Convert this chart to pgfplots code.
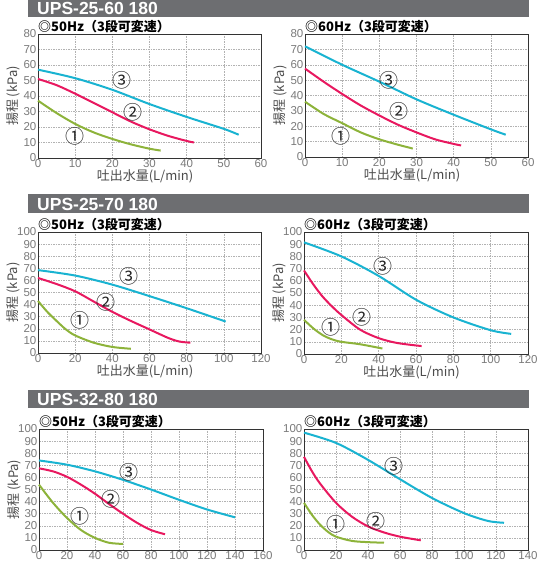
\documentclass[border=0pt]{standalone}
\usepackage{pgfplots}
\pgfplotsset{compat=1.18}
\usepackage{fontspec}
\setmainfont{Liberation Sans}
\newfontfamily\jp{Noto Sans CJK JP}
\definecolor{cgreen}{HTML}{8DB33A}
\definecolor{cpink}{HTML}{E8185F}
\definecolor{ccyan}{HTML}{19B3D1}
\definecolor{hdr}{HTML}{6D6E71}
\definecolor{tickgray}{HTML}{7A7A7A}

\tikzset{num/.style={font=\jp\fontsize{19}{19}\selectfont, inner sep=0pt, text=black!85}}
\pgfplotsset{
  pump/.style={
    scale only axis,
    axis line style={draw=black!80, line width=0.9pt},
    xmajorgrids, ymajorgrids,
    major grid style={dash pattern=on 1.5pt off 1pt, draw=black!30, line width=0.5pt},
    major tick length=0pt,
    xmin=0, ymin=0,
    ticklabel style={font=\fontsize{11.5}{11.5}\selectfont, text=tickgray, inner sep=1.5pt},
    /pgf/number format/assume math mode=true,
    every axis title shift=0pt,
    title style={at={(axis description cs:0,1)}, anchor=base west, inner sep=0pt, yshift=2.5pt,
      font=\jp\bfseries\fontsize{13}{13}\selectfont},
    every axis y label/.style={at={(axis description cs:-0.11,0.5)}, rotate=90, anchor=center,
      font=\jp\fontsize{13}{13}\selectfont, text=black!70},
    every axis x label/.style={at={(axis description cs:0.48,-0.15)}, anchor=center,
      font=\jp\fontsize{13}{13}\selectfont, text=black!70},
    clip=false,
  },
  c1/.style={cgreen, line width=2pt, smooth, no marks},
  c2/.style={cpink, line width=2pt, smooth, no marks},
  c3/.style={ccyan, line width=2pt, smooth, no marks},
}

\begin{document}
\begin{tikzpicture}
\useasboundingbox (0,0) rectangle (541pt,-562pt);

% headers
\fill[hdr] (28pt,0pt) rectangle (529pt,-17pt);
\node[anchor=west, inner sep=0pt, text=white, font=\bfseries\fontsize{17.5}{17.5}\selectfont] at (37pt,-8.5pt) {UPS-25-60 180};
\fill[hdr] (28pt,-194pt) rectangle (529pt,-213pt);
\node[anchor=west, inner sep=0pt, text=white, font=\bfseries\fontsize{17.5}{17.5}\selectfont] at (37pt,-204pt) {UPS-25-70 180};
\fill[hdr] (28pt,-390pt) rectangle (529pt,-408pt);
\node[anchor=west, inner sep=0pt, text=white, font=\bfseries\fontsize{17.5}{17.5}\selectfont] at (37pt,-399.5pt) {UPS-32-80 180};

% UPS-25-60 50Hz
\begin{axis}[pump, at={(38pt,-34pt)}, anchor=north west, width=223pt, height=124pt,
  xmax=60, ymax=80, xtick distance=10, ytick distance=10,
  title={◎50Hz（3段可変速）}, ylabel={揚程 (kPa)}, xlabel={吐出水量(L/min)}]
\addplot[c3] coordinates {(0,57) (10,51.5) (20,44) (30,34.8) (40,26.5) (50,18.8) (54,15)};
\addplot[c2] coordinates {(0,51) (5,47) (10,41.5) (15,35.5) (20,29.5) (25,23.5) (30,18.5) (35,14.3) (40,11) (42,10)};
\addplot[c1] coordinates {(0,37) (5,29) (10,22) (15,16.5) (20,12.3) (25,8.8) (30,6) (33,4.8)};
\node[num] at (axis cs:22.7,50.3) {③};
\node[num] at (axis cs:25.6,29.7) {②};
\node[num] at (axis cs:9.9,13.9) {①};
\end{axis}

% UPS-25-60 60Hz
\begin{axis}[pump, at={(305pt,-34pt)}, anchor=north west, width=223pt, height=123pt,
  xmax=60, ymax=80, xtick distance=10, ytick distance=10,
  title={◎60Hz（3段可変速）}, ylabel={揚程 (kPa)}, xlabel={吐出水量(L/min)}]
\addplot[c3] coordinates {(0,72) (10,60) (20,49) (30,37.5) (40,27.5) (50,18) (54,14.5)};
\addplot[c2] coordinates {(0,57.5) (5,49) (10,41) (15,33.5) (20,27) (25,21) (30,16) (35,11.5) (40,8.5) (42,7.5)};
\addplot[c1] coordinates {(0,36) (5,28) (10,22) (15,16) (20,11.5) (25,8) (29,5.5)};
\node[num] at (axis cs:22.6,50) {③};
\node[num] at (axis cs:25.3,29.8) {②};
\node[num] at (axis cs:9.7,13.5) {①};
\end{axis}

% UPS-25-70 50Hz
\begin{axis}[pump, at={(38pt,-232pt)}, anchor=north west, width=223pt, height=121pt,
  xmax=120, ymax=100, xtick distance=20, ytick distance=10,
  title={◎50Hz（3段可変速）}, ylabel={揚程 (kPa)}, xlabel={吐出水量(L/min)}]
\addplot[c3] coordinates {(0,68.5) (20,64) (40,56.5) (60,47) (80,37) (101,26)};
\addplot[c2] coordinates {(0,62) (10,57) (20,51) (30,42.5) (40,34) (50,26.5) (60,19.5) (70,12.5) (76,9.5) (82,8.5)};
\addplot[c1] coordinates {(0,43) (5,34) (10,26.5) (15,19.5) (20,14.5) (30,8.5) (40,5) (50,3.5)};
\node[num] at (axis cs:49,63.6) {③};
\node[num] at (axis cs:36.4,41.9) {②};
\node[num] at (axis cs:22.7,27.4) {①};
\end{axis}

% UPS-25-70 60Hz
\begin{axis}[pump, at={(304pt,-232pt)}, anchor=north west, width=224pt, height=122pt,
  xmax=120, ymax=100, xtick distance=20, ytick distance=10,
  title={◎60Hz（3段可変速）}, ylabel={揚程 (kPa)}, xlabel={吐出水量(L/min)}]
\addplot[c3] coordinates {(0,91.5) (20,80) (40,64) (60,44.5) (80,30) (100,19.5) (111,16.5)};
\addplot[c2] coordinates {(0,68.5) (5,57) (10,47) (15,39) (20,32) (30,20) (40,13) (50,9) (63,6.5)};
\addplot[c1] coordinates {(0,28) (5,21) (10,15.5) (15,12) (20,10) (30,8) (42,4.5)};
\node[num] at (axis cs:42.3,72) {③};
\node[num] at (axis cs:31.3,30) {②};
\node[num] at (axis cs:14.3,22.3) {①};
\end{axis}

% UPS-32-80 50Hz
\begin{axis}[pump, at={(39pt,-429pt)}, anchor=north west, width=224pt, height=121pt,
  xmax=160, ymax=100, xtick distance=20, ytick distance=10,
  title={◎50Hz（3段可変速）}, ylabel={揚程 (kPa)}]
\addplot[c3] coordinates {(0,74) (20,70.5) (40,65) (60,58) (80,50) (100,41.5) (120,33.5) (140,27)};
\addplot[c2] coordinates {(0,67.5) (10,65) (20,60.5) (30,54) (40,46.5) (50,38) (60,30) (70,22.5) (80,16.5) (90,13)};
\addplot[c1] coordinates {(0,54) (10,39) (20,26.5) (30,16.5) (40,10) (50,6) (60,5)};
\node[num] at (axis cs:64,64) {③};
\node[num] at (axis cs:51.3,42) {②};
\node[num] at (axis cs:29.6,27.5) {①};
\end{axis}

% UPS-32-80 60Hz
\begin{axis}[pump, at={(304pt,-429pt)}, anchor=north west, width=224pt, height=121pt,
  xmax=140, ymax=100, xtick distance=20, ytick distance=10,
  title={◎60Hz（3段可変速）}]
\addplot[c3] coordinates {(0,97) (20,88.5) (40,74.5) (60,58.5) (80,43) (100,30.5) (115,24) (125,22.5)};
\addplot[c2] coordinates {(0,77) (5,65) (10,55) (20,39) (30,27.5) (40,19.5) (50,14.5) (60,11) (73,8)};
\addplot[c1] coordinates {(0,39) (5,29) (10,21) (15,15) (20,11) (30,7.5) (40,6.5) (50,6)};
\node[num] at (axis cs:56,69) {③};
\node[num] at (axis cs:45,24) {②};
\node[num] at (axis cs:20,21.5) {①};
\end{axis}
\end{tikzpicture}
\end{document}
